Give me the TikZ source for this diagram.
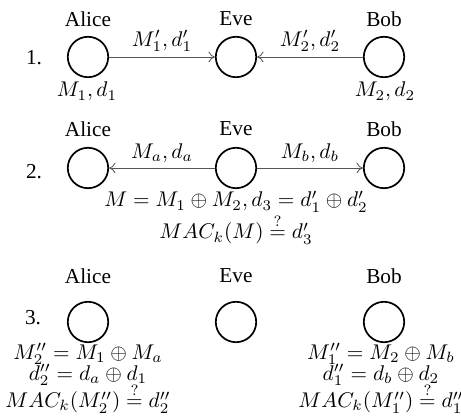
\documentclass[tikz,border=0pt]{standalone}
\usepackage{amsmath,amssymb}
\usepackage{fontspec}
\setmainfont{Liberation Serif}
\usepackage{tikz}
\usetikzlibrary{arrows.meta,positioning}
\definecolor{wire}{HTML}{555555}

\begin{document}
\begin{tikzpicture}[x=0.47pt, y=-0.47pt,
  party/.style={circle, draw, line width=0.8pt, minimum size=19pt, inner sep=0pt},
  msg/.style={wire, line width=0.4pt, -{To[length=3pt,width=5pt]}},
  who/.style={font=\normalsize},
  calc/.style={anchor=base, inner sep=0pt},
  check/.style={anchor=north, align=center, inner sep=0pt}]
\useasboundingbox (0,0) rectangle (461,419);
% Round 1: Alice and Bob send to Eve
\node[who] (alice1) at (88,19) {Alice};
\node[who] (eve1) at (236,19) {Eve};
\node[who] (bob1) at (384,19) {Bob};
\node (step1) at (34,58) {1.};
\node[party] (a1) at (88,57) {};
\node[party] (e1) at (236,57) {};
\node[party] (b1) at (384,57) {};
\node[calc] (kA) at (87,97) {$M_1, d_1$};
\node[calc] (kB) at (385,97) {$M_2, d_2$};
\draw[msg] (a1) -- (e1) node[midway, above=-1pt, black] {$M_1', d_1'$};
\draw[msg] (b1) -- (e1) node[midway, above=-1pt, black] {$M_2', d_2'$};
% Round 2: Eve answers both
\node[who] (alice2) at (88,129) {Alice};
\node[who] (eve2) at (236,129) {Eve};
\node[who] (bob2) at (384,129) {Bob};
\node (step2) at (34,172) {2.};
\node[party] (a2) at (88,168) {};
\node[party] (e2) at (236,168) {};
\node[party] (b2) at (384,168) {};
\draw[msg] (e2) -- (a2) node[midway, above=-1pt, black] {$M_a, d_a$};
\draw[msg] (e2) -- (b2) node[midway, above=-1pt, black] {$M_b, d_b$};
\node[calc] (eveEq) at (236,207) {$M = M_1 \oplus M_2, d_3 = d_1' \oplus d_2'$};
\node[calc] (eveMac) at (236,239) {$MAC_k(M) \stackrel{?}{=} d_3'$};
% Round 3: checks at Alice and Bob
\node[who] (alice3) at (88,276) {Alice};
\node[who] (eve3) at (236,276) {Eve};
\node[who] (bob3) at (384,276) {Bob};
\node (step3) at (33,318) {3.};
\node[party] (a3) at (88,322) {};
\node[party] (e3) at (236,322) {};
\node[party] (b3) at (384,322) {};
\node[check] (aliceEq) at (88,343) {$M_2'' = M_1 \oplus M_a$\\[-2pt]
  $d_2'' = d_a \oplus d_1$\\[-2.3pt]
  $MAC_k(M_2'') \stackrel{?}{=} d_2''$};
\node[check] (bobEq) at (381,343) {$M_1'' = M_2 \oplus M_b$\\[-2pt]
  $d_1'' = d_b \oplus d_2$\\[-2.3pt]
  $MAC_k(M_1'') \stackrel{?}{=} d_1''$};
\end{tikzpicture}
\end{document}
